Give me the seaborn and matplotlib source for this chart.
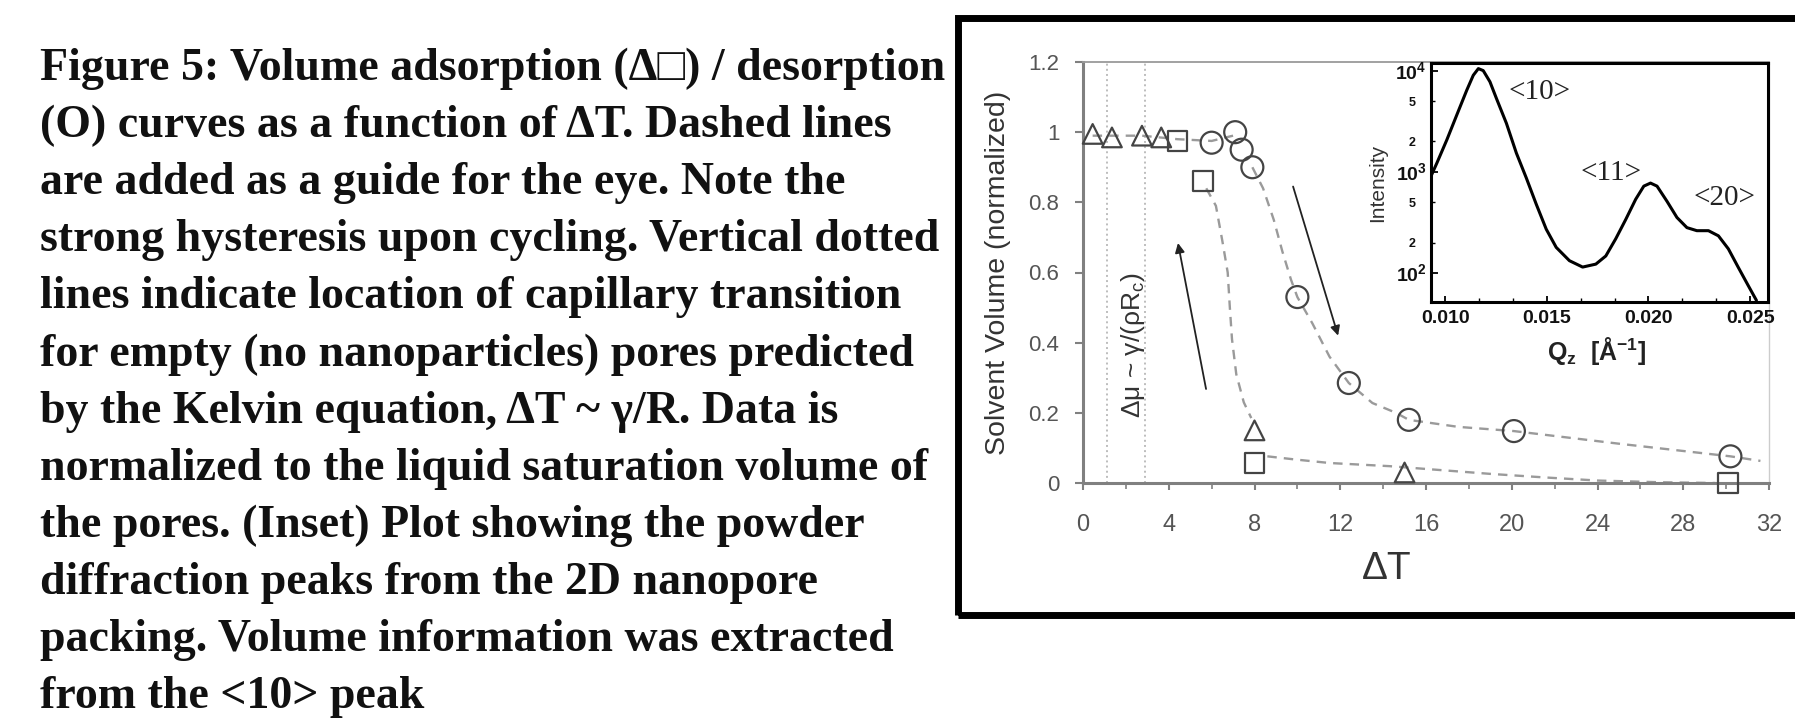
import matplotlib
matplotlib.use('Agg')
import matplotlib.pyplot as plt
import matplotlib.ticker as mticker
from matplotlib.patches import Rectangle
import seaborn as sns

# ---- main plot data ----
# desorption (circles)
circ_x = [6.0, 7.1, 7.4, 7.9, 10.0, 12.4, 15.2, 20.1, 30.2]
circ_y = [0.97, 1.0, 0.95, 0.90, 0.53, 0.285, 0.18, 0.148, 0.076]
# adsorption (squares / triangles)
sq_x = [4.4, 5.6, 8.0, 30.1]
sq_y = [0.975, 0.86, 0.057, 0.0]
tri_x = [0.45, 1.35, 2.75, 3.65, 8.0, 15.0]
tri_y = [0.995, 0.985, 0.99, 0.985, 0.15, 0.03]

# dashed "guide for the eye" lines
guide_top_x = [0.45, 2.75, 4.4, 6.0, 7.0]
guide_top_y = [0.99, 0.99, 0.98, 0.975, 0.99]
guide_des_x = [7.9, 8.4, 8.9, 9.3, 9.7, 10.0, 10.7, 11.5, 12.4, 13.5, 14.6, 15.2, 17.5, 20.1, 25.0, 30.2, 31.6]
guide_des_y = [0.90, 0.84, 0.75, 0.66, 0.58, 0.53, 0.455, 0.36, 0.285, 0.228, 0.20, 0.18, 0.16, 0.148, 0.112, 0.076, 0.063]
guide_ads_x = [5.75, 6.2, 6.5, 6.75, 6.85, 6.95, 7.15, 7.5, 7.85]
guide_ads_y = [0.84, 0.79, 0.69, 0.60, 0.50, 0.41, 0.31, 0.23, 0.185]
guide_low_x = [8.6, 9.9, 11.5, 14.3, 16.0, 19.0, 21.5, 24.0, 27.0, 29.5]
guide_low_y = [0.076, 0.067, 0.057, 0.048, 0.04, 0.026, 0.016, 0.007, 0.002, 0.0]

kelvin_x = [1.1, 2.9]
arrow_up = [(5.74, 0.268), (4.43, 0.684)]
arrow_down = [(9.8, 0.845), (11.9, 0.42)]

x_ticks = [0, 4, 8, 12, 16, 20, 24, 28, 32]
y_ticks = [0, 0.2, 0.4, 0.6, 0.8, 1.0, 1.2]
y_tick_labels = ['0', '0.2', '0.4', '0.6', '0.8', '1', '1.2']

# ---- inset: powder diffraction ----
q_vals = [0.0093, 0.00959, 0.01008, 0.0106, 0.01106, 0.01138, 0.01163, 0.01187, 0.0122,
          0.01252, 0.01301, 0.0135, 0.01399, 0.01448, 0.01497, 0.01546, 0.01611, 0.01676,
          0.01741, 0.0179, 0.01839, 0.01888, 0.01937, 0.01977, 0.0201, 0.02042, 0.02091,
          0.0214, 0.02189, 0.02238, 0.02295, 0.02344, 0.02393, 0.02441, 0.0249, 0.02531]
inten_vals = [908, 1225, 2075, 3784, 6412, 8995, 10470, 10000, 7762,
              5309, 3020, 1535, 871, 479, 272, 180, 133, 115,
              123, 148, 219, 339, 537, 724, 776, 724, 513,
              355, 282, 263, 263, 234, 174, 115, 76, 54]
peak_names = ['<10>', '<11>', '<20>']
peak_q = [0.01464, 0.01814, 0.02376]
peak_i = [6170, 977, 556]
in_x_ticks = [0.010, 0.015, 0.020, 0.025]
in_x_labels = ['0.010', '0.015', '0.020', '0.025']
in_y_ticks = [1e2, 1e3, 1e4]
in_y_labels = ['10$^\\mathregular{2}$', '10$^\\mathregular{3}$', '10$^\\mathregular{4}$']
in_y_minor = [200, 500, 2000, 5000]
in_y_minor_labels = ['2', '5', '2', '5']

caption_lines = [
    'Figure 5: Volume adsorption (\u0394\u25a1) / desorption',
    '(O) curves as a function of \u0394T. Dashed lines',
    'are added as a guide for the eye. Note the',
    'strong hysteresis upon cycling. Vertical dotted',
    'lines indicate location of capillary transition',
    'for empty (no nanoparticles) pores predicted',
    'by the Kelvin equation, \u0394T ~ \u03b3/R. Data is',
    'normalized to the liquid saturation volume of',
    'the pores. (Inset) Plot showing the powder',
    'diffraction peaks from the 2D nanopore',
    'packing. Volume information was extracted',
    'from the <10> peak',
]

sns.set_theme(style='ticks')
plt.rcParams['font.family'] = ['Liberation Sans', 'DejaVu Sans']

W, H = 1795, 725
fig = plt.figure(figsize=(W / 100, H / 100), dpi=100)
fig.patch.set_facecolor('white')

def fx(px):
    return px / W

def fy(py):
    return 1 - py / H

# caption text
for i, line in enumerate(caption_lines):
    fig.text(fx(40), fy(80 + 57.1 * i), line, family=['Liberation Serif', 'DejaVu Sans'],
             fontweight='bold', fontsize=33, ha='left', va='baseline', color='#111')

# thick frame around the graph
fig.add_artist(Rectangle((fx(958), fy(615)), 0.6, (615 - 18) / H, transform=fig.transFigure,
                         fill=False, lw=5, ec='black', clip_on=False))

ax = fig.add_axes([fx(1083), fy(483), (1769 - 1083) / W, (483 - 62) / H])
ax.set_facecolor('white')

for kx in kelvin_x:
    ax.axvline(kx, color='#bdbdbd', lw=1.4, ls=':', zorder=1)

guide_kw = dict(ax=ax, color='#9a9a9a', lw=1.7, linestyle=(0, (4, 3)), sort=False, estimator=None, zorder=2)
sns.lineplot(x=guide_top_x, y=guide_top_y, **guide_kw)
sns.lineplot(x=guide_des_x, y=guide_des_y, **guide_kw)
sns.lineplot(x=guide_ads_x, y=guide_ads_y, **guide_kw)
sns.lineplot(x=guide_low_x, y=guide_low_y, **guide_kw)

mk = dict(ax=ax, color='none', edgecolor='#444444', linewidth=1.6, clip_on=False, zorder=3, legend=False)
sns.scatterplot(x=circ_x, y=circ_y, marker='o', s=250, **mk)
sns.scatterplot(x=sq_x, y=sq_y, marker='s', s=200, **mk)
sns.scatterplot(x=tri_x, y=tri_y, marker='^', s=200, **mk)

for tail, head in [arrow_up, arrow_down]:
    ax.annotate('', xy=head, xytext=tail,
                arrowprops=dict(arrowstyle='-|>', color='#222', lw=1.3, mutation_scale=14,
                                shrinkA=0, shrinkB=0))

ax.text(2.33, 0.393, '\u0394\u03bc ~ \u03b3/(\u03c1R$_\\mathregular{c}$)', rotation=90,
        ha='center', va='center', fontsize=19, color='#333')

ax.set_xlim(0, 32)
ax.set_ylim(0, 1.2)
ax.set_xticks(x_ticks)
ax.set_xticklabels([str(t) for t in x_ticks])
ax.set_yticks(y_ticks)
ax.set_yticklabels(y_tick_labels)
ax.xaxis.set_minor_locator(mticker.MultipleLocator(2))
ax.tick_params(axis='both', which='both', direction='out', color='#808080', labelcolor='#555555')
ax.tick_params(axis='y', which='major', length=6, width=1.5, pad=11, labelsize=16)
ax.tick_params(axis='x', which='major', length=5, width=1.5, pad=17, labelsize=17)
ax.tick_params(axis='x', which='minor', length=4, width=1.2)

for side in ['left', 'bottom']:
    ax.spines[side].set_color('#808080')
    ax.spines[side].set_linewidth(2.2)
ax.spines['top'].set_color('#9a9a9a')
ax.spines['top'].set_linewidth(1.3)
ax.spines['right'].set_color('#cccccc')
ax.spines['right'].set_linewidth(1.0)

ax.set_ylabel('Solvent Volume (normalized)', fontsize=20.5, color='#333')
ax.yaxis.set_label_coords((998 - 1083) / 686, 0.5)
ax.yaxis.label.set_verticalalignment('center')
ax.set_xlabel('\u0394T', fontsize=28, color='#333')
ax.xaxis.set_label_coords((1387 - 1083) / 686, (483 - 569) / 421)
ax.xaxis.label.set_verticalalignment('center')

# ---- inset ----
axin = fig.add_axes([fx(1431), fy(302), (1768 - 1431) / W, (302 - 63) / H])
axin.set_facecolor('white')
sns.lineplot(x=q_vals, y=inten_vals, ax=axin, color='black', lw=2.2, sort=False, estimator=None)
axin.set_yscale('log')
axin.set_xlim(0.0093, 0.02588)
axin.set_ylim(52, 11890)

for name, q, i in zip(peak_names, peak_q, peak_i):
    axin.text(q, i, name, family='Liberation Serif', fontsize=21, ha='center', va='center', color='#222')

axin.set_xticks(in_x_ticks)
axin.set_xticklabels(in_x_labels, fontweight='bold')
axin.xaxis.set_minor_locator(mticker.AutoMinorLocator(3))
axin.set_yticks(in_y_ticks)
axin.set_yticklabels(in_y_labels, fontweight='bold')
axin.yaxis.set_minor_locator(mticker.FixedLocator(in_y_minor))
axin.yaxis.set_minor_formatter(mticker.FixedFormatter(in_y_minor_labels))
axin.tick_params(axis='both', which='both', direction='in', color='black', labelcolor='#111')
axin.tick_params(axis='x', which='major', length=4, width=1.3, pad=6, labelsize=14)
axin.tick_params(axis='x', which='minor', length=3, width=1.0)
axin.tick_params(axis='y', which='major', length=5, width=1.3, pad=3, labelsize=14)
axin.tick_params(axis='y', which='minor', length=3, width=1.0, pad=11, labelsize=9)
for lab in axin.yaxis.get_minorticklabels():
    lab.set_fontweight('bold')
for sp in axin.spines.values():
    sp.set_color('black')
    sp.set_linewidth(2.2)

axin.set_ylabel('Intensity', fontsize=15, color='#333')
axin.yaxis.set_label_coords((1378 - 1431) / 337, 0.5)
axin.yaxis.label.set_verticalalignment('center')
axin.set_xlabel('Q$_\\mathregular{z}$  [\u00c5$^\\mathregular{-1}$]', fontsize=18, fontweight='bold', color='#222')
axin.xaxis.set_label_coords((1597 - 1431) / 337, (302 - 351) / 239)
axin.xaxis.label.set_verticalalignment('center')

fig.savefig('out.png', dpi=100)
